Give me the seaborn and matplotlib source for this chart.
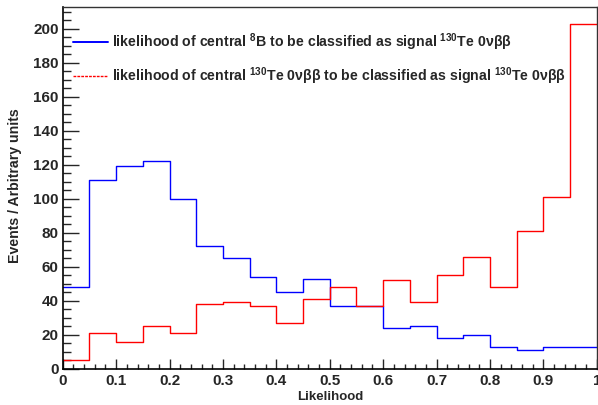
import numpy as np
import pandas as pd
import matplotlib
matplotlib.use("Agg")
import matplotlib.pyplot as plt
import seaborn as sns
from matplotlib.lines import Line2D
from matplotlib.ticker import MultipleLocator

sns.set_style("ticks")
plt.rcParams['font.family'] = ['Liberation Sans', 'DejaVu Sans']
plt.rcParams['font.weight'] = 'bold'
plt.rcParams['mathtext.fontset'] = 'custom'
plt.rcParams['mathtext.rm'] = 'Liberation Sans:bold'
plt.rcParams['mathtext.it'] = 'Liberation Sans:bold'
plt.rcParams['mathtext.bf'] = 'Liberation Sans:bold'
plt.rcParams['mathtext.default'] = 'rm'

bin_edges = [round(0.05 * i, 2) for i in range(21)]
boron8 = [48, 111, 119, 122, 100, 72, 65, 54, 45, 53, 37, 37, 24, 25, 18, 20, 13, 11, 13, 13]
te130 = [5, 21, 16, 25, 21, 38, 39, 37, 27, 41, 48, 37, 52, 39, 55, 66, 48, 81, 101, 203]
xtick_labels = ["0", "0.1", "0.2", "0.3", "0.4", "0.5", "0.6", "0.7", "0.8", "0.9", "1"]
label_b = r"likelihood of central $^{8}$B to be classified as signal $^{130}$Te 0νββ"
label_te = r"likelihood of central $^{130}$Te 0νββ to be classified as signal $^{130}$Te 0νββ"

centers = [(bin_edges[i] + bin_edges[i + 1]) / 2 for i in range(20)]
df = pd.DataFrame({"x": centers * 2,
                   "w": boron8 + te130,
                   "series": ["b"] * 20 + ["te"] * 20})

fig = plt.figure(figsize=(5.98, 4.05), dpi=100)
ax = fig.add_axes([0.1049, 0.0896, 0.8931, 0.8939])

sns.histplot(data=df[df.series == "b"], x="x", weights="w", bins=bin_edges,
             element="step", fill=False, color="blue", linewidth=1.0, ax=ax)
sns.histplot(data=df[df.series == "te"], x="x", weights="w", bins=bin_edges,
             element="step", fill=False, color="red", linewidth=1.0, ax=ax)

ax.set_xlim(0, 1)
ax.set_ylim(0, 213)
ax.yaxis.set_major_locator(MultipleLocator(20))
ax.yaxis.set_minor_locator(MultipleLocator(5))
ax.xaxis.set_minor_locator(MultipleLocator(0.02))
ax.set_xticks([i / 10 for i in range(11)])
ax.set_xticklabels(xtick_labels)
ax.tick_params(axis="y", which="major", direction="in", length=11.5, width=1, labelsize=11, pad=3)
ax.tick_params(axis="y", which="minor", direction="in", length=5.8, width=1)
ax.tick_params(axis="x", which="major", direction="in", length=7.5, width=1, labelsize=11, pad=4)
ax.tick_params(axis="x", which="minor", direction="in", length=3.8, width=1)
ax.tick_params(axis="x", which="both", top=False)
ax.tick_params(axis="y", which="both", right=False)
for lab in ax.get_xticklabels() + ax.get_yticklabels():
    lab.set_fontweight("bold")
for s in ["left", "bottom"]:
    ax.spines[s].set_linewidth(1.2)
    ax.spines[s].set_color("black")
for s in ["top", "right"]:
    ax.spines[s].set_visible(True)
    ax.spines[s].set_linewidth(1.0)
    ax.spines[s].set_color("#333333")

ax.set_xlabel("Likelihood", fontsize=9.5, fontweight="bold")
ax.xaxis.set_label_coords(0.5, -0.062)
ax.set_ylabel("Events / Arbitrary units", fontsize=10.2, fontweight="bold")
ax.yaxis.set_label_coords(-0.076, 0.505)

handles = [Line2D([0], [0], color="blue", lw=1.4),
           Line2D([0], [0], color="red", lw=1.0, linestyle=(0, (2, 0.8)))]
leg = ax.legend(handles, [label_b, label_te], loc="upper left",
                bbox_to_anchor=(0.019, 0.931), frameon=False,
                prop={"weight": "bold", "size": 10.2}, handlelength=2.45,
                handletextpad=0.3, labelspacing=0.84, borderaxespad=0,
                borderpad=0)

fig.savefig("out.png", dpi=100, facecolor="white")
